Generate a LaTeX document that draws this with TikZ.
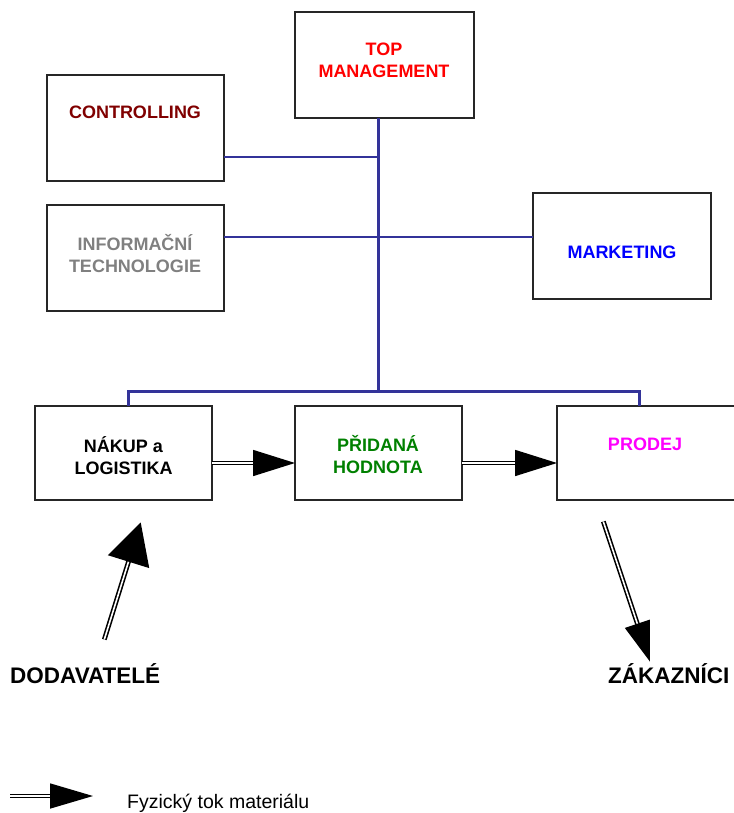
\documentclass[tikz,border=0pt]{standalone}
\usepackage{fontspec}
\setmainfont{Liberation Sans}
\usetikzlibrary{arrows.meta,calc}
\definecolor{busblue}{RGB}{51,51,153}
\definecolor{ctrlred}{RGB}{128,0,0}
\definecolor{itgray}{RGB}{128,128,128}
\definecolor{prgreen}{RGB}{0,128,0}
\definecolor{mkblue}{RGB}{0,0,255}
\definecolor{prmag}{RGB}{255,0,255}
\definecolor{tmred}{RGB}{255,0,0}
\begin{document}
\begin{tikzpicture}[x=1pt,y=-1pt,
  box/.style={draw=black!85,line width=1.3pt,fill=none,inner sep=0pt,outer sep=0pt},
  boxtext/.style={inner sep=0pt,align=center,font=\fontsize{18}{22}\selectfont\bfseries},
  bus/.style={draw=busblue,line width=2.4pt},
  flowline/.style={draw=black,line width=1.6pt,double=white,double distance=1.6pt},
  bigtext/.style={inner sep=0pt,anchor=base west,font=\fontsize{22.5}{26}\selectfont\bfseries},
  legtext/.style={inner sep=0pt,anchor=base west,font=\fontsize{19.5}{23}\selectfont}]
\useasboundingbox (0,0) rectangle (733,813);
% boxes
\node[box,minimum width=179pt,minimum height=106pt] (top) at (384.5,65) {};
\node[box,minimum width=177pt,minimum height=106pt] (ctrl) at (135.5,128) {};
\node[box,minimum width=177pt,minimum height=106pt] (info) at (135.5,258) {};
\node[box,minimum width=178pt,minimum height=106pt] (mkt) at (622,246) {};
\node[box,minimum width=177pt,minimum height=94pt] (nakup) at (123.5,453) {};
\node[box,minimum width=167pt,minimum height=94pt] (prid) at (378.5,453) {};
\node[box,minimum width=178pt,minimum height=94pt] (prodej) at (646,453) {};
% box texts
\node[boxtext,text=tmred] (toptx) at (384,60.5) {TOP\\MANAGEMENT};
\node[boxtext,text=ctrlred] (ctrltx) at (135,112) {CONTROLLING};
\node[boxtext,text=itgray] (infotx) at (135,253.5) {INFORMAČNÍ\\TECHNOLOGIE};
\node[boxtext,text=mkblue] (mkttx) at (622,252) {MARKETING};
\node[boxtext,text=black] (nakuptx) at (123.5,455.5) {NÁKUP a\\LOGISTIKA};
\node[boxtext,text=prgreen] (pridtx) at (378,455) {PŘIDANÁ\\HODNOTA};
\node[boxtext,text=prmag] (prodejtx) at (645,444) {PRODEJ};
% organisational lines
\coordinate (busend) at (378.5,391.5);
\coordinate (j1) at (378.5,157);
\coordinate (j2) at (378.5,237);
\coordinate (bl) at (128.5,391.5);
\coordinate (br) at (639.5,391.5);
\draw[bus] (top.south -| busend) -- (busend);
\draw[bus] (j1 -| ctrl.east) -- (j1);
\draw[bus] (j2 -| info.east) -- (j2 -| mkt.west);
\draw[bus,line join=miter] (bl |- nakup.north) -- (bl) -- (br) -- (br |- prodej.north);
% material flow
\coordinate (fy) at (0,463);
\draw[flowline,-{Triangle[length=42pt,width=26pt]}] (nakup.east |- fy) -- (prid.west |- fy);
\draw[flowline,-{Triangle[length=42pt,width=26pt]}] (prid.east |- fy) -- (prodej.west |- fy);
\coordinate (s1) at (104.3,639.5);
\coordinate (t1) at (140.7,522.5);
\draw[flowline,-{Triangle[length=41pt,width=43pt]}] (s1) -- (t1);
\coordinate (s2) at (603.3,521.5);
\coordinate (t2) at (650,661.7);
\draw[flowline,-{Triangle[length=40pt,width=26pt]}] (s2) -- (t2);
% labels
\node[bigtext] (dod) at (10,683) {DODAVATELÉ};
\node[bigtext] (zak) at (608,683) {ZÁKAZNÍCI};
% legend
\coordinate (ls) at (10,796);
\coordinate (le) at (93,796);
\draw[flowline,-{Triangle[length=43pt,width=25pt]}] (ls) -- (le);
\node[legtext] (legtx) at (127,808.5) {Fyzický tok materiálu};
\end{tikzpicture}
\end{document}
